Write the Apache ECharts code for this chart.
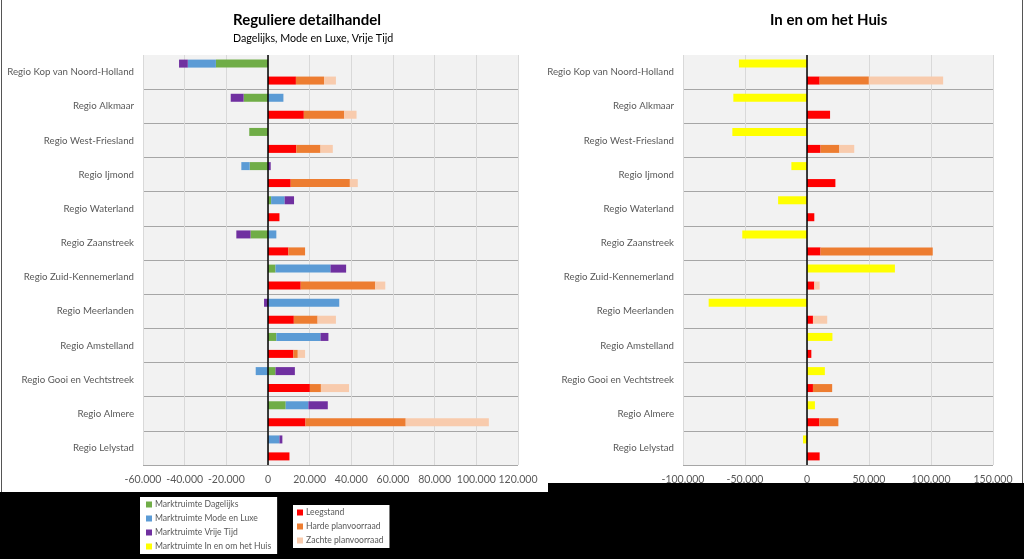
<!DOCTYPE html>
<html><head><meta charset="utf-8">
<script src="https://cdn.jsdelivr.net/npm/echarts@6/dist/echarts.min.js"></script>
<style>html,body{margin:0;padding:0;background:#000;}#c{width:1024px;height:559px;}</style>
</head><body><div id="c"></div>
<script>
const categories = ['Regio Kop van Noord-Holland','Regio Alkmaar','Regio West-Friesland','Regio Ijmond','Regio Waterland','Regio Zaanstreek','Regio Zuid-Kennemerland','Regio Meerlanden','Regio Amstelland','Regio Gooi en Vechtstreek','Regio Almere','Regio Lelystad'];
// Left: Reguliere detailhandel
const dagelijks = [-25000,-11700,-9000,-8800,1500,-8400,3600,0,4000,3600,8500,0];
const modeLuxe  = [-13500,7400,0,-4000,6500,4000,26400,34200,21200,-5900,10900,5500];
const vrijeTijd = [-4200,-6200,0,1300,4500,-6800,7500,-1900,3800,9300,9300,1400];
const leegstandL = [13400,17200,13600,10900,5500,9800,15700,12400,12200,20100,18000,10300];
const hardeL     = [13500,19400,11600,28400,0,8000,35800,11400,2100,5300,48100,0];
const zachteL    = [5700,5900,5900,3800,0,0,4800,8800,3500,13500,39900,0];
// Right: In en om het Huis
const inOmHuis   = [-54900,-59400,-60200,-12600,-23300,-52200,70900,-79300,20500,14400,6400,-3200];
const leegstandR = [10200,18600,10900,22900,5900,10900,5900,4800,3500,4800,10000,10200];
const hardeR     = [39700,0,15200,0,0,90500,0,0,0,15500,15300,0];
const zachteR    = [59900,0,12000,0,0,0,4300,11500,0,0,0,0];
const leftTicks = {min:-60000,max:120000,interval:20000};
const rightTicks = {min:-100000,max:150000,interval:50000};

const C = {dag:'#70ad47',mode:'#5b9bd5',vrij:'#7030a0',huis:'#ffff00',leeg:'#ff0000',harde:'#ed7d31',zachte:'#f8cbad'};
const FONT = 'Lato, "Open Sans", sans-serif';
function fmt(v){ if(v===0) return '0'; return (v<0?'-':'')+String(Math.abs(v)).replace(/\B(?=(\d{3})+(?!\d))/g,'.'); }

const chart = echarts.init(document.getElementById('c'));
const grids = [
  {left:143,right:506,top:55,bottom:94,show:true,backgroundColor:'#f2f2f2',borderWidth:0,containLabel:false,outerBoundsMode:'none'},
  {left:683,right:31,top:55,bottom:94,show:true,backgroundColor:'#f2f2f2',borderWidth:0,containLabel:false,outerBoundsMode:'none'}
];
function xAx(i,t){ return {type:'value',gridIndex:i,min:t.min,max:t.max,interval:t.interval,
  axisLine:{show:false},axisTick:{show:false},
  splitLine:{show:true,lineStyle:{color:'#d9d9d9',width:1}},
  axisLabel:{formatter:fmt,color:'#595959',fontSize:10.5,fontFamily:FONT,margin:9,showMinLabel:true,showMaxLabel:true,hideOverlap:false}}; }
function yAx(i){ return {type:'category',gridIndex:i,data:categories,inverse:true,
  axisLine:{show:false,onZero:false},axisTick:{show:false},
  splitLine:{show:true,interval:function(idx){return idx>0;},lineStyle:{color:'#a6a6a6',width:1}},
  axisLabel:{color:'#595959',fontSize:9.7,fontFamily:FONT,margin:9}}; }
function bar(name,data,stack,color,ax,extra){ return Object.assign({name,type:'bar',data,stack,xAxisIndex:ax,yAxisIndex:ax,
  barWidth:8,barGap:'112%',itemStyle:{color},silent:true,animation:false},extra||{}); }
const zeroLine = {silent:true,symbol:'none',label:{show:false},lineStyle:{color:'#000',width:1.5,type:'solid'},data:[{xAxis:0}],animation:false};

const option = {
  backgroundColor:'#000',
  animation:false,
  graphic:[
    {type:'rect',shape:{x:0,y:0,width:548,height:492},style:{fill:'#fff'},z:-10},
    {type:'rect',shape:{x:548,y:0,width:476,height:483},style:{fill:'#fff'},z:-10},
    {type:'line',shape:{x1:1.5,y1:0,x2:1.5,y2:492},style:{stroke:'#555',lineWidth:1},z:-9},
    {type:'line',shape:{x1:1022.5,y1:0,x2:1022.5,y2:483},style:{stroke:'#555',lineWidth:1},z:-9},
    {type:'text',left:233,top:13,style:{text:'Reguliere detailhandel',font:'bold 15px '+FONT,fill:'#000'}},
    {type:'text',left:233,top:33,style:{text:'Dagelijks, Mode en Luxe, Vrije Tijd',font:'10.7px '+FONT,fill:'#000'}},
    {type:'text',left:770,top:13,style:{text:'In en om het Huis',font:'bold 15px '+FONT,fill:'#000'}}
  ],
  grid:grids,
  xAxis:[xAx(0,leftTicks),xAx(1,rightTicks)],
  yAxis:[yAx(0),yAx(1)],
  legend:[
    {data:['Marktruimte Dagelijks','Marktruimte Mode en Luxe','Marktruimte Vrije Tijd','Marktruimte In en om het Huis'],
     orient:'vertical',left:140,top:497,padding:[3,6,3,6],itemGap:5,itemWidth:6,itemHeight:6,icon:'rect',
     backgroundColor:'#fff',textStyle:{fontSize:8.6,color:'#595959',fontFamily:FONT,padding:[0,0,0,-2]},selectedMode:false},
    {data:['Leegstand','Harde planvoorraad','Zachte planvoorraad'],
     orient:'vertical',left:293,top:505,padding:[3,6,3,4],itemGap:5,itemWidth:6,itemHeight:6,icon:'rect',
     backgroundColor:'#fff',textStyle:{fontSize:8.6,color:'#595959',fontFamily:FONT,padding:[0,0,0,-2]},selectedMode:false}
  ],
  series:[
    bar('Marktruimte Dagelijks',dagelijks,'a',C.dag,0,{markLine:zeroLine}),
    bar('Marktruimte Mode en Luxe',modeLuxe,'a',C.mode,0),
    bar('Marktruimte Vrije Tijd',vrijeTijd,'a',C.vrij,0),
    bar('Leegstand',leegstandL,'b',C.leeg,0),
    bar('Harde planvoorraad',hardeL,'b',C.harde,0),
    bar('Zachte planvoorraad',zachteL,'b',C.zachte,0),
    bar('Marktruimte In en om het Huis',inOmHuis,'c',C.huis,1,{markLine:zeroLine}),
    bar('Leegstand',leegstandR,'d',C.leeg,1),
    bar('Harde planvoorraad',hardeR,'d',C.harde,1),
    bar('Zachte planvoorraad',zachteR,'d',C.zachte,1)
  ]
};
chart.setOption(option);
</script></body></html>
